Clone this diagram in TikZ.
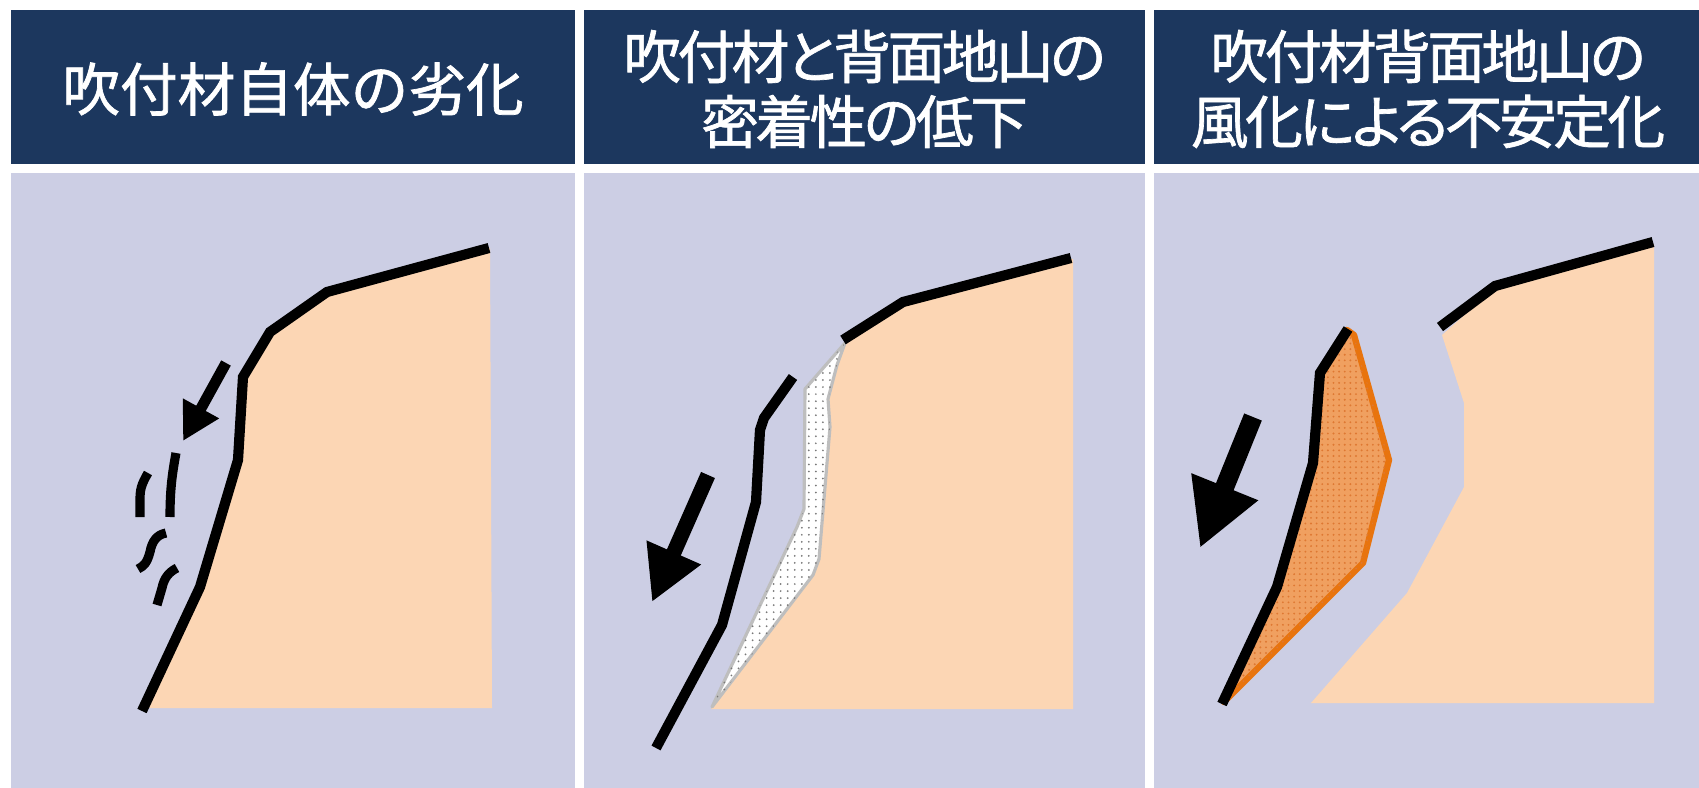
\documentclass[tikz,border=0pt]{standalone}
\usepackage{fontspec}
\newfontfamily\jp[FakeBold=1.2]{Noto Sans CJK JP}
\newfontfamily\jpnarrow[RawFeature=+palt,FakeBold=1.2,LetterSpace=-6]{Noto Sans CJK JP}
\usetikzlibrary{arrows.meta,patterns.meta}

\definecolor{navy}{RGB}{28,55,94}
\definecolor{lav}{RGB}{204,206,228}
\definecolor{peach}{RGB}{252,214,180}
\definecolor{gapgray}{RGB}{190,190,190}
\definecolor{dotgray}{RGB}{120,120,120}
\definecolor{blockfill}{RGB}{240,160,96}
\definecolor{blockdot}{RGB}{222,120,50}
\definecolor{blockedge}{RGB}{232,116,14}

\begin{document}
\begin{tikzpicture}[x=0.01cm,y=-0.01cm,
  header/.style={fill=navy},
  body/.style={fill=lav},
  title/.style={text=white,font=\jp\fontsize{16.4pt}{18.5pt}\selectfont,align=center,inner sep=0pt},
  title2/.style={title,font=\jpnarrow\fontsize{16.4pt}{18.5pt}\selectfont},
  rock/.style={fill=peach},
  shell/.style={draw=black,line width=2.9pt,line join=miter},
  debris/.style={draw=black,line width=2.6pt},
  gapfill/.style={fill=white,draw=gapgray,line width=0.9pt,line join=round},
  gapdots/.style={pattern={Dots[distance=2pt,radius=0.28pt]},pattern color=dotgray},
  blockstyle/.style={fill=blockfill,draw=blockedge,line width=1.8pt,line join=round},
  blockdots/.style={pattern={Dots[distance=1.6pt,radius=0.3pt]},pattern color=blockdot},
  slide/.style={draw=black,line cap=butt}
]
\useasboundingbox (0,0) rectangle (1699,788);
\fill[white] (0,0) rectangle (1699,788);

% three columns: header bar and picture area
\fill[header] (11,10) rectangle (575,164);
\fill[header] (584,10) rectangle (1145,164);
\fill[header] (1154,10) rectangle (1699,164);
\fill[body] (11,173) rectangle (575,788);
\fill[body] (584,173) rectangle (1145,788);
\fill[body] (1154,173) rectangle (1699,788);

\node[title] (t1) at (293,89) {吹付材自体の劣化};
\node[title2] (t2) at (864.5,89) {吹付材と背面地山の\\密着性の低下};
\node[title2] (t3) at (1428,89) {吹付材背面地山の\\風化による不安定化};

% --- column 1: shotcrete deteriorating on its own ---
\fill[rock] (145,707) -- (200,587) -- (238,460) -- (243,377) -- (270,332)
  -- (327,292) -- (490,248) -- (492,708) -- (150,708) -- cycle;
\draw[shell] (142,711) -- (200,587) -- (238,460) -- (243,377) -- (270,332)
  -- (327,292) -- (489,248);
\draw[debris] (148,473) .. controls (141,485) and (140,490) .. (140,500) -- (140,517);
\draw[debris] (176,453) .. controls (172,475) and (170,490) .. (170,517);
\draw[debris] (166,533) .. controls (156,535) and (152,542) .. (150,552)
  .. controls (147,563) and (144,566) .. (138,569);
\draw[debris] (177,568) .. controls (169,572) and (164,578) .. (162,588) -- (157,605);
\draw[slide,line width=3.1pt,-{Triangle[length=10.6pt,width=11pt]}] (226,363) -- (183,441);

% --- column 2: loss of adhesion between shotcrete and ground ---
\fill[rock] (846,344) -- (903,302) -- (1070,259) -- (1073,259) -- (1073,709)
  -- (711,709) -- (813,575) -- (819,559) -- (830,427) -- (828,399) -- (837,365) -- cycle;
\filldraw[gapfill] (845,343) -- (805,389) -- (804,509) -- (797,527) -- (712,707)
  -- (813,575) -- (819,559) -- (830,427) -- (828,399) -- (837,365) -- cycle;
\fill[gapdots] (845,343) -- (805,389) -- (804,509) -- (797,527) -- (712,707)
  -- (813,575) -- (819,559) -- (830,427) -- (828,399) -- (837,365) -- cycle;
\draw[shell] (843,340) -- (903,302) -- (1071,258);
\draw[shell] (793,377) -- (764,418) -- (760,430) -- (756,502) -- (722,625) -- (656,748);
\draw[slide,line width=4.3pt,-{Triangle[length=15.4pt,width=15.8pt]}] (708,475) -- (652,602);

% --- column 3: weathering of the ground behind the shotcrete ---
\fill[rock] (1442,335) -- (1495,288) -- (1654,244) -- (1654,703) -- (1311,703)
  -- (1407,593) -- (1464,487) -- (1464,403) -- cycle;
\draw[shell] (1440,327) -- (1495,286) -- (1653,242);
\filldraw[blockstyle] (1224,702) -- (1277,587) -- (1313,463) -- (1320,373) -- (1347,330)
  -- (1354,335) -- (1389,460) -- (1363,563) -- cycle;
\fill[blockdots] (1224,702) -- (1277,587) -- (1313,463) -- (1320,373) -- (1347,330)
  -- (1354,335) -- (1389,460) -- (1363,563) -- cycle;
\draw[shell] (1222,704) -- (1277,587) -- (1313,463) -- (1320,373) -- (1348,329);
\draw[slide,line width=5.4pt,-{Triangle[length=18.8pt,width=19.1pt]}] (1253,417) -- (1200,548);
\end{tikzpicture}
\end{document}
